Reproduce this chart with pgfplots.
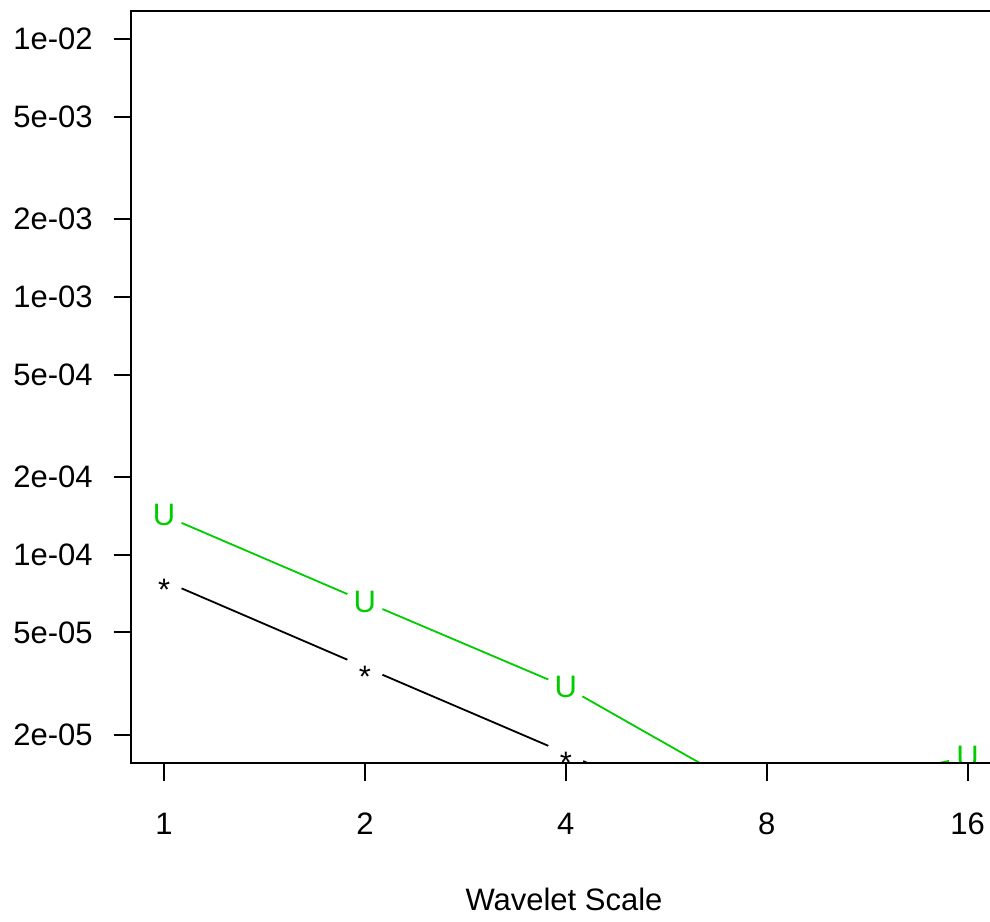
\documentclass[border=0pt]{standalone}
\usepackage{fontspec}
\setmainfont{Liberation Sans}
\usepackage{pgfplots}
\pgfplotsset{compat=1.18}
\definecolor{green3}{HTML}{00CD00}
\newcommand\lblfont{\fontsize{15.5}{18}\selectfont}

\begin{document}
\begin{tikzpicture}
% page extent: plot region runs past the right edge of the page
\useasboundingbox (-65.75pt,-79pt) rectangle (429.25pt,381.5pt);
\begin{axis}[
  at={(0,0)}, anchor=south west,
  scale only axis, width=434.25pt, height=376pt,
  xmode=log, ymode=log, log basis x=2,
  xmin=0.8938, xmax=17.89, ymin=1.558e-5, ymax=1.2844e-2,
  axis on top,
  clip marker paths=true,
  axis line style={line width=1pt, black},
  tick pos=left, tick align=outside, major tick length=9pt,
  major tick style={black, line width=1pt},
  minor tick style={draw=none},
  xtick={1,2,4,8,16}, xticklabels={1,2,4,8,16},
  ytick={1e-2,5e-3,2e-3,1e-3,5e-4,2e-4,1e-4,5e-5,2e-5},
  yticklabels={1e-02,5e-03,2e-03,1e-03,5e-04,2e-04,1e-04,5e-05,2e-05},
  ticklabel style={font=\lblfont, text=black},
  xticklabel style={anchor=base, inner sep=0pt, yshift=-27pt},
  yticklabel style={anchor=east, inner sep=0pt, xshift=-10.25pt},
  xlabel={Wavelet Scale},
  xlabel style={at={(rel axis cs:0.498,0)}, anchor=base, yshift=-73.5pt,
                font=\lblfont, inner sep=0pt},
  clip=true,
]
% wavelet variance, upper series
\addplot[green3, line width=0.9pt, mark=text, text mark={U},
  text mark as node=true,
  text mark style={font=\lblfont, text=green3, fill=white, circle,
                   inner sep=0pt, minimum size=19pt}]
  coordinates {(1,1.422e-4) (2,6.585e-5) (4,3.072e-5) (8,1.110e-5) (16,1.647e-5)};
% wavelet variance, estimate
\addplot[black, line width=0.9pt, mark=text, text mark={\smash{\raisebox{-10pt}{*}}},
  text mark as node=true,
  text mark style={font=\lblfont, text=black, fill=white, circle,
                   inner sep=0pt, minimum size=19pt}]
  coordinates {(1,7.93e-5) (2,3.664e-5) (4,1.699e-5) (8,7.6e-6)};
\end{axis}
\end{tikzpicture}
\end{document}
